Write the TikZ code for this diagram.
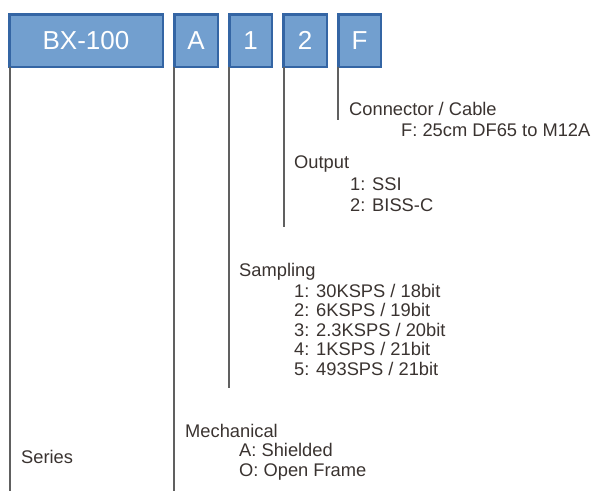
\documentclass[tikz,border=0pt]{standalone}
\usepackage{fontspec}
\setmainfont{Liberation Sans}
\definecolor{boxfill}{HTML}{729FCF}
\definecolor{boxline}{HTML}{3465A4}
\definecolor{conn}{HTML}{606060}
\definecolor{txt}{HTML}{3A3330}
\begin{document}
\begin{tikzpicture}[x=1pt,y=1pt,
  codebox/.style={draw=boxline,fill=boxfill,line width=2.5pt,text=white,
    font=\fontsize{26}{30}\selectfont,inner sep=0pt,outer sep=0pt,
    minimum height=52.5pt},
  connline/.style={draw=conn,line width=2.2pt},
  lbl/.style={anchor=base west,inner sep=0pt,text=txt,font=\fontsize{18.3}{21}\selectfont}]
\useasboundingbox (0,0) rectangle (595,-491);
% boxes
\node[codebox,minimum width=153.5pt] (bx) at (86,-40.5) {BX-100};
\node[codebox,minimum width=43.5pt] (ba) at (196,-40.5) {A};
\node[codebox,minimum width=42.5pt] (b1) at (250.5,-40.5) {1};
\node[codebox,minimum width=43.5pt] (b2) at (305,-40.5) {2};
\node[codebox,minimum width=42.5pt] (bf) at (359.5,-40.5) {F};
% free ends
\coordinate (ex) at (10,-491);
\coordinate (ea) at (174,-491);
\coordinate (e1) at (229,-388);
\coordinate (e2) at (284,-227);
\coordinate (ef) at (338,-120);
% connectors
\draw[connline] (ex |- bx.south) -- (ex);
\draw[connline] (ea |- ba.south) -- (ea);
\draw[connline] (e1 |- b1.south) -- (e1);
\draw[connline] (e2 |- b2.south) -- (e2);
\draw[connline] (ef |- bf.south) -- (ef);
% labels
\node[lbl] (tc) at (349,-115) {Connector / Cable};
\node[lbl] (tc1) at (401,-136) {F: 25cm DF65 to M12A};
\node[lbl] (to) at (294,-168) {Output};
\node[lbl] (to1) at (350,-190) {1: SSI};
\node[lbl] (to2) at (350,-211) {2: BISS-C};
\node[lbl] (ts) at (239,-276) {Sampling};
\node[lbl] (ts1) at (294,-297) {1: 30KSPS / 18bit};
\node[lbl] (ts2) at (294,-316) {2: 6KSPS / 19bit};
\node[lbl] (ts3) at (294,-336) {3: 2.3KSPS / 20bit};
\node[lbl] (ts4) at (294,-355) {4: 1KSPS / 21bit};
\node[lbl] (ts5) at (294,-375) {5: 493SPS / 21bit};
\node[lbl] (tm) at (185,-437) {Mechanical};
\node[lbl] (tm1) at (239,-456) {A: Shielded};
\node[lbl] (tm2) at (239,-476) {O: Open Frame};
\node[lbl] (tser) at (21,-463) {Series};
\end{tikzpicture}
\end{document}
